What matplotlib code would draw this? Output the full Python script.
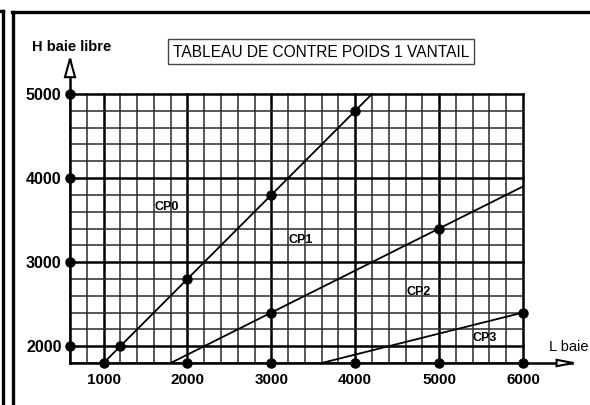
import matplotlib.pyplot as plt
from matplotlib.lines import Line2D
from matplotlib.patches import Polygon

plt.rcParams['font.family'] = ['Liberation Sans', 'DejaVu Sans']

# grid range (mm)
x_min, x_max = 600, 6000
y_min, y_max = 1800, 5000
step = 200

x_ticks = [1000, 2000, 3000, 4000, 5000, 6000]
y_ticks = [2000, 3000, 4000, 5000]

# counterweight boundary lines (start, end)
cp0_x = [1000, 4200]
cp0_y = [1800, 5000]
cp1_x = [1800, 6000]
cp1_y = [1800, 3900]
cp3_x = [3600, 6000]
cp3_y = [1800, 2400]

# marked points along the lines
pts_x = [1200, 2000, 3000, 4000, 3000, 5000, 6000]
pts_y = [2000, 2800, 3800, 4800, 2400, 3400, 2400]

# zone labels
zone_names = ['CP0', 'CP1', 'CP2', 'CP3']
zone_x = [1750, 3350, 4750, 5540]
zone_y = [3670, 3280, 2660, 2110]

W, H = 590, 406
fig = plt.figure(figsize=(W / 100, H / 100), dpi=100)
left, right, top, bottom = 70, 523, 95, 364
ax = fig.add_axes([left / W, 1 - bottom / H, (right - left) / W, (bottom - top) / H])
ax.set_xlim(x_min, x_max)
ax.set_ylim(y_min, y_max)
ax.axis('off')

# grid
for x in range(x_min, x_max + 1, step):
    major = x % 1000 == 0
    ax.plot([x, x], [y_min, y_max], color='black' if major else '#2a2a2a',
            lw=1.8 if major else 1.1, zorder=1, clip_on=False)
for y in range(y_min, y_max + 1, step):
    major = y % 1000 == 0 or y == y_max
    ax.plot([x_min, x_max], [y, y], color='black' if major else '#2a2a2a',
            lw=1.8 if major else 1.1, zorder=1, clip_on=False)

# axes with open arrow heads
ax.plot([x_min, x_min], [y_min, 5400], color='black', lw=1.8, clip_on=False, zorder=3)
ax.add_patch(Polygon([[x_min, 5420], [x_min - 60, 5200], [x_min + 60, 5200]], closed=True,
                     facecolor='white', edgecolor='black', lw=1.5, clip_on=False, zorder=4))
ax.plot([x_min, 6580], [y_min, y_min], color='black', lw=1.8, clip_on=False, zorder=3)
ax.add_patch(Polygon([[6600, y_min], [6400, y_min - 38], [6400, y_min + 38]], closed=True,
                     facecolor='white', edgecolor='black', lw=1.5, clip_on=False, zorder=4))

# boundary lines
for lx, ly in [(cp0_x, cp0_y), (cp1_x, cp1_y), (cp3_x, cp3_y)]:
    ax.plot(lx, ly, color='black', lw=1.3, zorder=3, clip_on=False)

ms = 6.5
ax.plot(pts_x, pts_y, 'o', color='black', ms=ms, zorder=5, clip_on=False)
ax.plot(x_ticks, [y_min] * len(x_ticks), 'o', color='black', ms=ms, zorder=5, clip_on=False)
ax.plot([x_min] * len(y_ticks), y_ticks, 'o', color='black', ms=ms, zorder=5, clip_on=False)

# tick labels
for x in x_ticks:
    ax.text(x, 1610, str(x), ha='center', va='center', fontsize=11, fontweight='bold',
            clip_on=False)
for y in y_ticks:
    ax.text(500, y, str(y), ha='right', va='center', fontsize=11.5, fontweight='bold',
            clip_on=False)

for name, zx, zy in zip(zone_names, zone_x, zone_y):
    ax.text(zx, zy, name, ha='center', va='center', fontsize=9, fontweight='bold')

ax.text(x_min + 20, 5570, 'H baie libre', ha='center', va='center', fontsize=10.5,
        fontweight='bold', clip_on=False)
ax.text(6550, 2000, 'L baie', ha='center', va='center', fontsize=10.5, clip_on=False)

fig.text(321 / W, 1 - 52.5 / H, 'TABLEAU DE CONTRE POIDS 1 VANTAIL', ha='center', va='center',
         fontsize=11.2,
         bbox=dict(boxstyle='square,pad=0.3', facecolor='white', edgecolor='#444444', lw=1.0))

# page frame
fig.add_artist(Line2D([3 / W, 3 / W], [0, 1 - 12 / H], color='black', lw=2.4))
fig.add_artist(Line2D([12.5 / W, 12.5 / W], [0, 1 - 13 / H], color='black', lw=2.4))
fig.add_artist(Line2D([11.5 / W, 1], [1 - 13 / H, 1 - 13 / H], color='black', lw=2.4))
fig.add_artist(Line2D([0, 3 / W], [1 - 12 / H, 1 - 12 / H], color='black', lw=2.4))

fig.savefig('out.png', dpi=100)
